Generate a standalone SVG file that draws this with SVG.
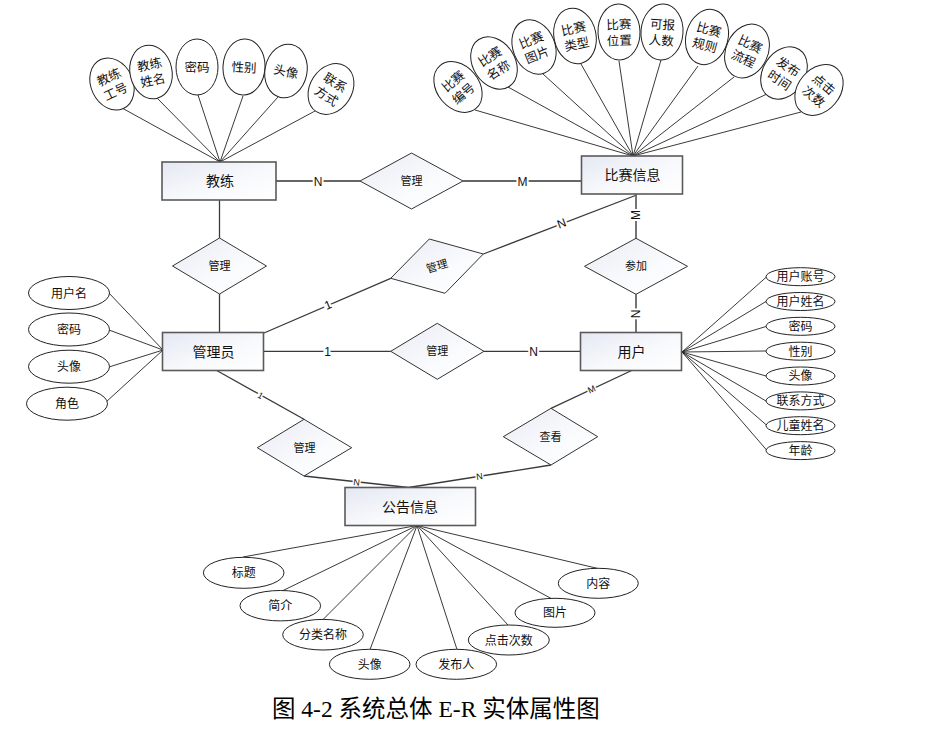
<svg xmlns="http://www.w3.org/2000/svg" width="925" height="740" viewBox="0 0 925 740">
<defs>
<linearGradient id="gBox" x1="0" y1="0" x2="1" y2="1">
<stop offset="0" stop-color="#e4e8f3"/>
<stop offset="0.55" stop-color="#f8f9fc"/>
<stop offset="1" stop-color="#ffffff"/>
</linearGradient>
<linearGradient id="gDia" x1="0" y1="0" x2="1" y2="1">
<stop offset="0" stop-color="#e8ebf4"/>
<stop offset="0.6" stop-color="#fafbfd"/>
<stop offset="1" stop-color="#ffffff"/>
</linearGradient>
</defs>
<style>
.ent{fill:url(#gBox);stroke:#5a5a5a;stroke-width:1.6}
.dia{fill:url(#gDia);stroke:#333;stroke-width:1}
.att{fill:#fff;stroke:#222;stroke-width:1}
.rel{stroke:#3a3a3a;stroke-width:1.3;fill:none}
.rel2{stroke:#666;stroke-width:1.8;fill:none}
.al{stroke:#222;stroke-width:0.9;fill:none}
text{font-family:"Noto Sans CJK SC","Liberation Sans",sans-serif;fill:#111;text-anchor:middle}
.te{font-size:14px}
.td{font-size:11px}
.ta{font-size:12px}
.tt{font-size:12.5px}
.lb{font-family:"Liberation Sans","Noto Sans CJK SC",sans-serif;font-size:12px;stroke:#fff;stroke-width:4;paint-order:stroke;dominant-baseline:central}
.ls{font-family:"Liberation Sans","Noto Sans CJK SC",sans-serif;font-size:9px;stroke:#fff;stroke-width:3;paint-order:stroke;dominant-baseline:central}
.cap{font-family:"Liberation Serif","Noto Sans CJK SC",serif;font-size:23.5px;text-anchor:start;fill:#000}
</style>
<rect width="925" height="740" fill="#fff"/>

<g id="connectors">
<!-- coach attributes -->
<line class="al" x1="220" y1="162" x2="122" y2="108"/>
<line class="al" x1="220" y1="162" x2="157" y2="98"/>
<line class="al" x1="220" y1="162" x2="198" y2="95"/>
<line class="al" x1="220" y1="162" x2="243" y2="96"/>
<line class="al" x1="220" y1="162" x2="278" y2="97"/>
<line class="al" x1="220" y1="162" x2="315" y2="111"/>
<!-- competition attributes -->
<line class="al" x1="633" y1="156" x2="475" y2="110"/>
<line class="al" x1="633" y1="156" x2="508" y2="87"/>
<line class="al" x1="633" y1="156" x2="543" y2="74"/>
<line class="al" x1="633" y1="156" x2="581" y2="64"/>
<line class="al" x1="633" y1="156" x2="619" y2="61"/>
<line class="al" x1="633" y1="156" x2="661" y2="60"/>
<line class="al" x1="633" y1="156" x2="698" y2="66"/>
<line class="al" x1="633" y1="156" x2="734" y2="77"/>
<line class="al" x1="633" y1="156" x2="767" y2="94"/>
<line class="al" x1="633" y1="156" x2="801" y2="112"/>
<!-- admin attributes -->
<line class="al" x1="163" y1="350" x2="108" y2="292"/>
<line class="al" x1="163" y1="350" x2="109" y2="330"/>
<line class="al" x1="163" y1="350" x2="109" y2="367"/>
<line class="al" x1="163" y1="350" x2="106" y2="402"/>
<!-- user attributes -->
<line class="al" x1="682" y1="352" x2="767" y2="276.5"/>
<line class="al" x1="682" y1="352" x2="766" y2="301.5"/>
<line class="al" x1="682" y1="352" x2="766" y2="326.5"/>
<line class="al" x1="682" y1="352" x2="766" y2="351"/>
<line class="al" x1="682" y1="352" x2="766" y2="376"/>
<line class="al" x1="682" y1="352" x2="766" y2="401"/>
<line class="al" x1="682" y1="352" x2="767" y2="425.5"/>
<line class="al" x1="682" y1="352" x2="767" y2="450.5"/>
<!-- notice attributes -->
<line class="al" x1="417" y1="525.5" x2="243" y2="557"/>
<line class="al" x1="417" y1="525.5" x2="282" y2="591"/>
<line class="al" x1="417" y1="525.5" x2="323" y2="619.5"/>
<line class="al" x1="417" y1="525.5" x2="370" y2="649.5"/>
<line class="al" x1="417" y1="525.5" x2="457" y2="649.5"/>
<line class="al" x1="417" y1="525.5" x2="508" y2="625"/>
<line class="al" x1="417" y1="525.5" x2="553" y2="599.5"/>
<line class="al" x1="417" y1="525.5" x2="598" y2="568.5"/>

<!-- relationships -->
<polyline class="rel2" points="276,181 360,181"/>
<polyline class="rel2" points="463,181 581.5,181"/>
<polyline class="rel" points="219.5,200 219.5,238"/>
<polyline class="rel" points="219.5,294 219.5,332.5"/>
<polyline class="rel" points="264,333 390.7,278.3"/>
<polyline class="rel" points="483.3,254 636.7,195"/>
<polyline class="rel2" points="636,194 636,238.3"/>
<polyline class="rel2" points="636,294.3 636,332.5"/>
<polyline class="rel" points="263.5,351.3 390.7,351.3"/>
<polyline class="rel" points="484,351.3 580.5,351.3"/>
<polyline class="rel" points="216.7,370.5 304,419.3"/>
<polyline class="rel" points="304,476 408.5,487.5 551,465"/>
<polyline class="rel" points="551,408.3 631.7,370.5"/>

<!-- cardinality labels -->
<text class="lb" x="318" y="181.5">N</text>
<text class="lb" x="522.5" y="181.5">M</text>
<text class="lb" x="328" y="305" transform="rotate(-23 328 305)">1</text>
<text class="lb" x="561.5" y="223.5" transform="rotate(-21 561.5 223.5)">N</text>
<text class="lb" x="636" y="215" transform="rotate(-90 636 215)">M</text>
<text class="lb" x="636" y="314" transform="rotate(-90 636 314)">N</text>
<text class="lb" x="327.5" y="351.5">1</text>
<text class="lb" x="533.5" y="351.5">N</text>
<text class="ls" x="260.5" y="395.5" transform="rotate(29 260.5 395.5)">1</text>
<text class="ls" x="356.7" y="482.5" transform="rotate(7 356.7 482.5)">N</text>
<text class="ls" x="479.5" y="476.5" transform="rotate(-9 479.5 476.5)">N</text>
<text class="ls" x="591.7" y="389.5" transform="rotate(-25 591.7 389.5)">M</text>
</g>

<!-- entities -->
<g id="coach"><rect class="ent" x="162" y="162" width="114" height="38"/><text class="te" x="220" y="186">教练</text></g>
<g id="competition"><rect class="ent" x="581.5" y="156" width="101" height="38"/><text class="te" x="632.5" y="180">比赛信息</text></g>
<g id="admin"><rect class="ent" x="162.5" y="332.5" width="101" height="38"/><text class="te" x="213.5" y="356.5">管理员</text></g>
<g id="user"><rect class="ent" x="580.5" y="332.5" width="101" height="38"/><text class="te" x="631.5" y="356.5">用户</text></g>
<g id="notice"><rect class="ent" x="345" y="487.5" width="130.5" height="38"/><text class="te" x="410" y="511.5">公告信息</text></g>

<!-- relationships -->
<g id="rel-coach-comp"><polygon class="dia" points="360,181 411.5,153 463,181 411.5,209"/><text class="td" x="411.5" y="185">管理</text></g>
<g id="rel-coach-admin"><polygon class="dia" points="172.5,266 219.5,238 266.5,266 219.5,294"/><text class="td" x="219.5" y="270">管理</text></g>
<g id="rel-admin-comp"><polygon class="dia" points="390.7,278.3 429.3,239 483.3,254 445,293.3"/><text class="td" x="437" y="270" transform="rotate(-16 437 266)">管理</text></g>
<g id="rel-join"><polygon class="dia" points="584.5,266.3 636,238.3 687.5,266.3 636,294.3"/><text class="td" x="636" y="270.3">参加</text></g>
<g id="rel-admin-user"><polygon class="dia" points="390.7,351.3 437.3,323.3 484,351.3 437.3,379.3"/><text class="td" x="437.3" y="355.3">管理</text></g>
<g id="rel-admin-notice"><polygon class="dia" points="257.3,447.7 304,419.3 351.7,447.7 304,476"/><text class="td" x="304.5" y="451.7">管理</text></g>
<g id="rel-view"><polygon class="dia" points="503.3,436.7 551,408.3 597.7,436.7 551,465"/><text class="td" x="550.5" y="440.7">查看</text></g>

<!-- coach attributes -->
<g id="a-coach-no" transform="translate(112,84) rotate(-25)"><ellipse class="att" rx="21" ry="27"/><text class="tt" y="-3">教练</text><text class="tt" y="13">工号</text></g>
<g id="a-coach-name" transform="translate(151,72) rotate(-12)"><ellipse class="att" rx="21" ry="27"/><text class="tt" y="-3">教练</text><text class="tt" y="13">姓名</text></g>
<g id="a-coach-pwd" transform="translate(197,67)"><ellipse class="att" rx="21" ry="28"/><text class="tt" y="5">密码</text></g>
<g id="a-coach-sex" transform="translate(244,67) rotate(3)"><ellipse class="att" rx="21" ry="28"/><text class="tt" y="5">性别</text></g>
<g id="a-coach-avatar" transform="translate(286,71) rotate(12)"><ellipse class="att" rx="21" ry="27"/><text class="tt" y="5">头像</text></g>
<g id="a-coach-contact" transform="translate(331,89) rotate(33)"><ellipse class="att" rx="21" ry="27"/><text class="tt" y="-3">联系</text><text class="tt" y="13">方式</text></g>

<!-- competition attributes -->
<g id="a-comp-no" transform="translate(458,87) rotate(-40)"><ellipse class="att" rx="21" ry="28"/><text class="tt" y="-3">比赛</text><text class="tt" y="13">编号</text></g>
<g id="a-comp-name" transform="translate(494,63) rotate(-33)"><ellipse class="att" rx="21" ry="28"/><text class="tt" y="-3">比赛</text><text class="tt" y="13">名称</text></g>
<g id="a-comp-pic" transform="translate(534,47) rotate(-22)"><ellipse class="att" rx="21" ry="28"/><text class="tt" y="-3">比赛</text><text class="tt" y="13">图片</text></g>
<g id="a-comp-type" transform="translate(575,36) rotate(-12)"><ellipse class="att" rx="21" ry="28"/><text class="tt" y="-3">比赛</text><text class="tt" y="13">类型</text></g>
<g id="a-comp-loc" transform="translate(619,32) rotate(-2)"><ellipse class="att" rx="21" ry="28"/><text class="tt" y="-3">比赛</text><text class="tt" y="13">位置</text></g>
<g id="a-comp-num" transform="translate(662,32) rotate(4)"><ellipse class="att" rx="21" ry="28"/><text class="tt" y="-3">可报</text><text class="tt" y="13">人数</text></g>
<g id="a-comp-rule" transform="translate(707,37) rotate(15)"><ellipse class="att" rx="21" ry="28"/><text class="tt" y="-3">比赛</text><text class="tt" y="13">规则</text></g>
<g id="a-comp-flow" transform="translate(747,51) rotate(25)"><ellipse class="att" rx="21" ry="28"/><text class="tt" y="-3">比赛</text><text class="tt" y="13">流程</text></g>
<g id="a-comp-time" transform="translate(784,73) rotate(33)"><ellipse class="att" rx="21" ry="28"/><text class="tt" y="-3">发布</text><text class="tt" y="13">时间</text></g>
<g id="a-comp-clicks" transform="translate(819,90) rotate(40)"><ellipse class="att" rx="21" ry="28"/><text class="tt" y="-3">点击</text><text class="tt" y="13">次数</text></g>

<!-- admin attributes -->
<g id="a-admin-user"><ellipse class="att" cx="69" cy="293" rx="40.5" ry="16.5"/><text class="ta" x="69" y="297.5">用户名</text></g>
<g id="a-admin-pwd"><ellipse class="att" cx="69" cy="329.5" rx="40.5" ry="16.5"/><text class="ta" x="69" y="334">密码</text></g>
<g id="a-admin-avatar"><ellipse class="att" cx="69" cy="366.7" rx="40.5" ry="16.5"/><text class="ta" x="69" y="371.2">头像</text></g>
<g id="a-admin-role"><ellipse class="att" cx="67" cy="403.7" rx="40.5" ry="16.5"/><text class="ta" x="67" y="408.2">角色</text></g>

<!-- user attributes -->
<g id="a-user-acc"><ellipse class="att" cx="800.5" cy="276.7" rx="34.5" ry="9"/><text class="ta" x="800.5" y="281">用户账号</text></g>
<g id="a-user-name"><ellipse class="att" cx="800.5" cy="301.5" rx="34.5" ry="9"/><text class="ta" x="800.5" y="305.8">用户姓名</text></g>
<g id="a-user-pwd"><ellipse class="att" cx="800.5" cy="326.3" rx="34.5" ry="9"/><text class="ta" x="800.5" y="330.6">密码</text></g>
<g id="a-user-sex"><ellipse class="att" cx="800.5" cy="351.2" rx="34.5" ry="9"/><text class="ta" x="800.5" y="355.5">性别</text></g>
<g id="a-user-avatar"><ellipse class="att" cx="800.5" cy="376" rx="34.5" ry="9"/><text class="ta" x="800.5" y="380.3">头像</text></g>
<g id="a-user-contact"><ellipse class="att" cx="800.5" cy="400.9" rx="34.5" ry="9"/><text class="ta" x="800.5" y="405.2">联系方式</text></g>
<g id="a-user-child"><ellipse class="att" cx="800.5" cy="425.7" rx="34.5" ry="9"/><text class="ta" x="800.5" y="430">儿童姓名</text></g>
<g id="a-user-age"><ellipse class="att" cx="800.5" cy="450.6" rx="34.5" ry="9"/><text class="ta" x="800.5" y="454.9">年龄</text></g>

<!-- notice attributes -->
<g id="a-n-title"><ellipse class="att" cx="243.7" cy="572.8" rx="40.3" ry="15.5"/><text class="ta" x="243.7" y="577.3">标题</text></g>
<g id="a-n-intro"><ellipse class="att" cx="280.3" cy="605.7" rx="40.3" ry="15.2"/><text class="ta" x="280.3" y="610.2">简介</text></g>
<g id="a-n-cat"><ellipse class="att" cx="323" cy="634.7" rx="40.3" ry="15.3"/><text class="ta" x="323" y="639.2">分类名称</text></g>
<g id="a-n-avatar"><ellipse class="att" cx="369.7" cy="664.3" rx="40.3" ry="15"/><text class="ta" x="369.7" y="668.8">头像</text></g>
<g id="a-n-pub"><ellipse class="att" cx="456.3" cy="664.3" rx="40.3" ry="15"/><text class="ta" x="456.3" y="668.8">发布人</text></g>
<g id="a-n-clicks"><ellipse class="att" cx="508.8" cy="640" rx="40.5" ry="15"/><text class="ta" x="508.8" y="644.5">点击次数</text></g>
<g id="a-n-pic"><ellipse class="att" cx="555" cy="612.8" rx="40" ry="14.5"/><text class="ta" x="555" y="617.3">图片</text></g>
<g id="a-n-content"><ellipse class="att" cx="598.3" cy="583.3" rx="40" ry="15"/><text class="ta" x="598.3" y="587.8">内容</text></g>

<text class="cap" x="272" y="717">图 4-2 系统总体 E-R 实体属性图</text>
</svg>
